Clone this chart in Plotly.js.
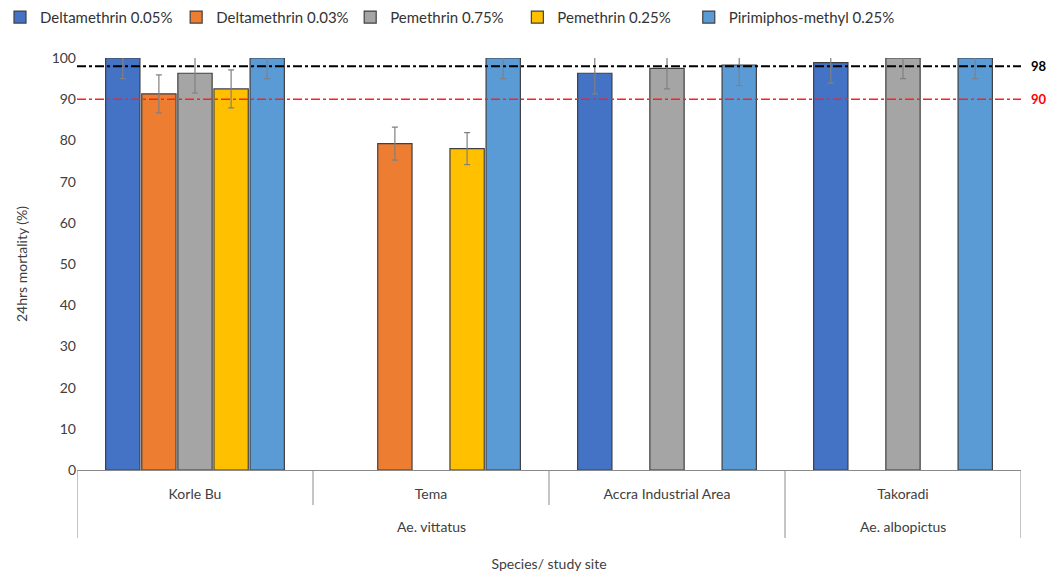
<!DOCTYPE html>
<html>
<head>
<meta charset="utf-8">
<script src="https://cdn.plot.ly/plotly-3.0.1.min.js"></script>
<style>html,body{margin:0;padding:0;background:#fff;}#chart{width:1058px;height:578px;}</style>
</head>
<body>
<div id="chart"></div>
<script>
const sites = ["Korle Bu", "Tema", "Accra Industrial Area", "Takoradi"];
const speciesGroups = ["Ae. vittatus", "Ae. albopictus"];
const speciesCentres = [1, 3];          // category-index centre of each species group
const groupBoundaries = [-0.5, 2.5, 3.5]; // full-height dividers
const siteBoundaries = [0.5, 1.5];        // short dividers
const seriesNames = ["Deltamethrin 0.05%", "Deltamethrin 0.03%", "Pemethrin 0.75%", "Pemethrin 0.25%", "Pirimiphos-methyl 0.25%"];
const delta005 = [100, null, 96.3, 98.9];
const delta005Err = [5, null, 5, 5];
const delta003 = [91.3, 79.2, null, null];
const delta003Err = [4.6, 4.0, null, null];
const pem075 = [96.3, null, 97.5, 100];
const pem075Err = [4.8, null, 5, 5];
const pem025 = [92.5, 78.0, null, null];
const pem025Err = [4.6, 3.9, null, null];
const pirim = [100, 100, 98.3, 100];
const pirimErr = [5, 5, 5, 5];
const thresholds = [98, 90];
const thresholdLabels = ["98", "90"];

const colors = ["#4472C4", "#ED7D31", "#A5A5A5", "#FFC000", "#5B9BD5"];
const legendX = [0, 0.1665, 0.331, 0.489, 0.651];
const vals = [delta005, delta003, pem075, pem025, pirim];
const errs = [delta005Err, delta003Err, pem075Err, pem025Err, pirimErr];
const font = "Lato, 'Open Sans', sans-serif";
const lineCol = "#8a8a8a";

const traces = vals.map((v, i) => ({
  type: "bar",
  name: seriesNames[i],
  x: sites,
  y: v,
  legend: i === 0 ? "legend" : "legend" + (i + 1),
  marker: {color: colors[i], line: {color: "#404040", width: 1.2}},
  error_y: {type: "data", array: errs[i], visible: true, color: "#808080", thickness: 1.2, width: 3},
  hoverinfo: "y+name"
}));

const shapes = [
  {type: "line", xref: "paper", yref: "y", x0: 0, x1: 1.0, y0: thresholds[0], y1: thresholds[0],
   line: {color: "#000000", width: 2, dash: "dashdot"}},
  {type: "line", xref: "paper", yref: "y", x0: 0, x1: 1.0, y0: thresholds[1], y1: thresholds[1],
   line: {color: "#FF2020", width: 1.5, dash: "dashdot"}}
];
groupBoundaries.forEach(b => shapes.push({type: "line", xref: "x", yref: "paper", x0: b, x1: b, y0: 0, y1: -0.165,
  line: {color: lineCol, width: 1}}));
siteBoundaries.forEach(b => shapes.push({type: "line", xref: "x", yref: "paper", x0: b, x1: b, y0: 0, y1: -0.085,
  line: {color: lineCol, width: 1}}));

const annotations = [
  {xref: "paper", yref: "y", x: 1.008, y: thresholds[0], text: "<b>" + thresholdLabels[0] + "</b>", showarrow: false, xanchor: "left",
   font: {family: font, size: 13, color: "#000"}},
  {xref: "paper", yref: "y", x: 1.008, y: thresholds[1], text: "<b>" + thresholdLabels[1] + "</b>", showarrow: false, xanchor: "left",
   font: {family: font, size: 13, color: "#FF0000"}}
];
speciesGroups.forEach((s, i) => annotations.push({xref: "x", yref: "paper", x: speciesCentres[i], y: -0.138, yanchor: "middle",
  text: s, showarrow: false, font: {family: font, size: 14, color: "#404040"}}));

const layout = {
  width: 1058, height: 578,
  margin: {l: 77, r: 37, t: 58, b: 108},
  paper_bgcolor: "#fff", plot_bgcolor: "#fff",
  font: {family: font, size: 14, color: "#404040"},
  barmode: "group", bargap: 0.235, bargroupgap: 0.05,
  showlegend: true,
  xaxis: {type: "category", showline: true, linecolor: lineCol, linewidth: 1,
          ticks: "", ticklabelstandoff: 11,
          tickfont: {family: font, size: 14, color: "#404040"},
          title: {text: "Species/ study site", font: {family: font, size: 14, color: "#404040"}, standoff: 58},
          range: [-0.5, 3.5], fixedrange: true, automargin: false},
  yaxis: {range: [0, 100], dtick: 10, showgrid: false, zeroline: false, showline: false,
          tickfont: {family: font, size: 14, color: "#404040"}, ticks: "", ticklen: 0, automargin: false,
          title: {text: "24hrs mortality (%)", font: {family: font, size: 14, color: "#404040"}, standoff: 20}},
  shapes: shapes,
  annotations: annotations
};
legendX.forEach((lx, i) => {
  layout[i === 0 ? "legend" : "legend" + (i + 1)] = {
    orientation: "h", xref: "container", yref: "container", x: lx, xanchor: "left", y: 0.97, yanchor: "middle",
    font: {family: font, size: 15, color: "#333"}, itemwidth: 30, bgcolor: "rgba(0,0,0,0)"
  };
});

Plotly.newPlot("chart", traces, layout, {displayModeBar: false, staticPlot: true});
</script>
</body>
</html>
